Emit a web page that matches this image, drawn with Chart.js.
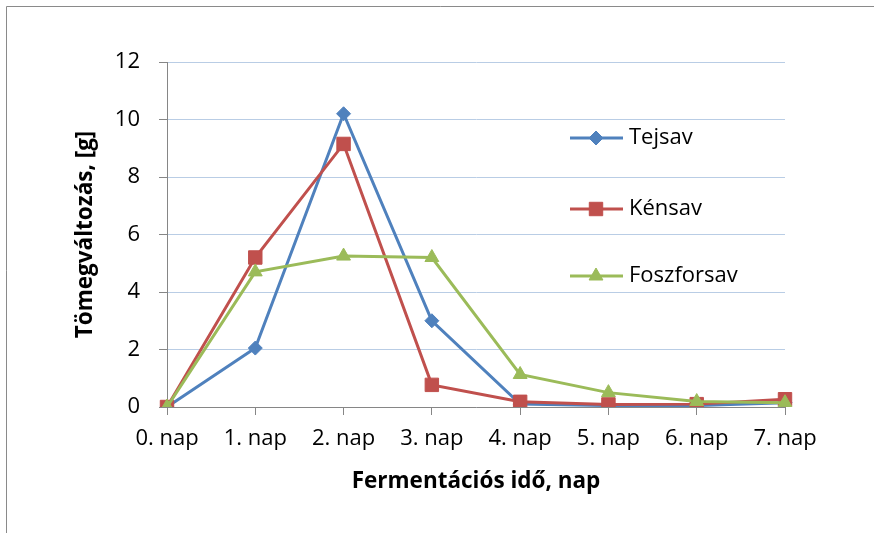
<!DOCTYPE html>
<html><head><meta charset="utf-8">
<script src="https://cdn.jsdelivr.net/npm/chart.js@4/dist/chart.umd.min.js"></script>
<style>html,body{margin:0;padding:0;background:#fff;}#wrap{width:874px;height:533px;position:relative;}</style>
</head><body><div id="wrap"><canvas id="c" width="874" height="533"></canvas></div>
<script>
const categories = ['0. nap','1. nap','2. nap','3. nap','4. nap','5. nap','6. nap','7. nap'];
const tejsav = [0, 2.05, 10.2, 3.0, 0.1, 0.05, 0.05, 0.15];
const kensav = [0, 5.2, 9.15, 0.77, 0.18, 0.09, 0.1, 0.27];
const foszforsav = [0, 4.7, 5.25, 5.2, 1.13, 0.5, 0.19, 0.15];
const seriesNames = ['Tejsav','Kénsav','Foszforsav'];
const yTicks = [0,2,4,6,8,10,12];

const FONT = "'Open Sans', 'Liberation Sans', sans-serif";
const colors = ['#4f81bd','#c0504d','#9bbb59'];
const styles = ['rectRot','rect','triangle'];
const radii = [7,9.5,8];

const frame = {
  id:'frame',
  beforeDraw(chart){
    const ctx = chart.ctx;
    ctx.save();
    ctx.strokeStyle = '#8a8a8a'; ctx.lineWidth = 1;
    ctx.beginPath(); ctx.moveTo(6.5, 540); ctx.lineTo(6.5, 6.5); ctx.lineTo(880, 6.5); ctx.stroke();
    ctx.restore();
  }
};
const legendPlugin = {
  id:'customLegend',
  afterDraw(chart){
    const ctx = chart.ctx;
    const rows = [138, 209, 276];
    seriesNames.forEach((n,i)=>{
      const y = rows[i];
      ctx.save();
      ctx.strokeStyle = colors[i]; ctx.lineWidth = 3;
      ctx.beginPath(); ctx.moveTo(570, y); ctx.lineTo(623, y); ctx.stroke();
      ctx.fillStyle = colors[i]; ctx.strokeStyle = colors[i]; ctx.lineWidth = 1;
      Chart.helpers.drawPoint(ctx, {pointStyle: styles[i], radius: radii[i], borderWidth: 1}, 596, y);
      ctx.fillStyle = '#000';
      ctx.font = "22px " + FONT;
      ctx.textBaseline = 'middle';
      ctx.fillText(n, 629, y);
      ctx.restore();
    });
  }
};

const mk = (label, data, i) => ({
  label, data,
  borderColor: colors[i], backgroundColor: colors[i],
  borderWidth: 3, pointStyle: styles[i], pointRadius: radii[i],
  pointBorderWidth: 1, pointBorderColor: colors[i], pointBackgroundColor: colors[i],
  tension: 0, order: 2 - i
});

new Chart(document.getElementById('c'), {
  type: 'line',
  data: { labels: categories, datasets: [mk(seriesNames[0], tejsav, 0), mk(seriesNames[1], kensav, 1), mk(seriesNames[2], foszforsav, 2)] },
  options: {
    responsive: false, animation: false,
    layout: { padding: { left: 0, right: 89, top: 62, bottom: 0 } },
    plugins: { legend: { display: false }, tooltip: { enabled: false } },
    scales: {
      x: {
        offset: false,
        grid: { drawOnChartArea: false, drawTicks: true, tickLength: 8, tickColor: '#868686' },
        border: { color: '#868686', width: 1 },
        ticks: { font: { family: FONT, size: 22 }, color: '#000', padding: 11, maxRotation: 0 },
        title: { display: true, text: 'Fermentációs idő, nap', font: { family: FONT, size: 22.5, weight: 'bold' }, color: '#000', padding: { top: 0, bottom: 38 } },
        afterFit(s){ s.height = 126; }
      },
      y: {
        min: 0, max: 12,
        afterBuildTicks(s){ s.ticks = yTicks.map(v => ({ value: v })); },
        grid: { color: '#b9cde5', lineWidth: 1, drawTicks: true, tickLength: 8, tickColor: '#868686' },
        border: { color: '#868686', width: 1 },
        ticks: { font: { family: FONT, size: 22 }, color: '#000', padding: 19 },
        title: { display: true, text: 'Tömegváltozás, [g]', font: { family: FONT, size: 22.5, weight: 'bold' }, color: '#000', padding: { top: 72, bottom: 0 } },
        afterFit(s){ s.width = 167; }
      }
    }
  },
  plugins: [frame, legendPlugin]
});
</script></body></html>
